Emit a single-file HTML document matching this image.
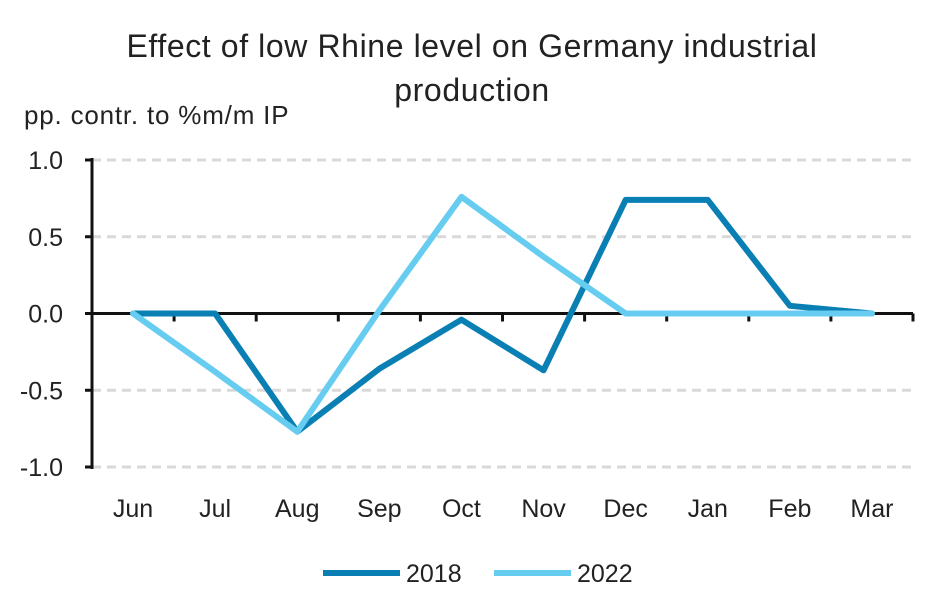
<!DOCTYPE html>
<html><head><meta charset="utf-8">
<style>
html,body{margin:0;padding:0;background:#fff;}
svg{display:block;font-family:"Source Sans Pro","Liberation Sans",sans-serif;}
</style></head>
<body>
<svg id="chart" width="949" height="596" viewBox="0 0 949 596" xmlns="http://www.w3.org/2000/svg">
<text x="472" y="57" text-anchor="middle" font-size="32" letter-spacing="0.6" fill="#222">Effect of low Rhine level on Germany industrial</text>
<text x="472" y="101" text-anchor="middle" font-size="32" letter-spacing="0.6" fill="#222">production</text>
<text x="24" y="124" font-size="26" letter-spacing="0.8" fill="#222">pp. contr. to %m/m IP</text>
<g id="grid"></g>
<g id="axes"></g>
<g id="series"></g>
<g>
<line x1="323" y1="573" x2="400" y2="573" stroke="#0a7fb4" stroke-width="6"/>
<text x="406" y="582" font-size="25" fill="#222">2018</text>
<line x1="494" y1="573" x2="571" y2="573" stroke="#66cdf0" stroke-width="6"/>
<text x="577" y="582" font-size="25" fill="#222">2022</text>
</g>
</svg>
<script>
const categories=["Jun","Jul","Aug","Sep","Oct","Nov","Dec","Jan","Feb","Mar"];
const series2018=[0,0,-0.77,-0.36,-0.04,-0.37,0.74,0.74,0.05,0];
const series2022=[0,-0.38,-0.77,0.02,0.76,0.37,0,0,0,0];
const yTicks=[1.0,0.5,0.0,-0.5,-1.0];
const yTickLabels=["1.0","0.5","0.0","-0.5","-1.0"];

const NS="http://www.w3.org/2000/svg";
const x0=92,x1=913,yTop=160,yBot=467;
const step=(x1-x0)/categories.length;
const xPos=i=>x0+step*(i+0.5);
const yPos=v=>yTop+(1-v)/2*(yBot-yTop);
function mk(tag,attrs,parent){const e=document.createElementNS(NS,tag);for(const k in attrs)e.setAttribute(k,attrs[k]);parent.appendChild(e);return e;}
const grid=document.getElementById('grid'),axes=document.getElementById('axes'),ser=document.getElementById('series');
yTicks.forEach((t,i)=>{
  if(t!==0){const l=mk('line',{x1:x0,x2:x1,y1:yPos(t),y2:yPos(t),stroke:'#d9d9d9','stroke-width':3,'stroke-dasharray':'9,6'},grid);
  
  }
  const tk=mk('line',{x1:x0-7,x2:x0,y1:yPos(t),y2:yPos(t),stroke:'#111','stroke-width':3},axes);
  
  
  const tx=mk('text',{x:63,y:yPos(t)+9,'text-anchor':'end','font-size':25,fill:'#222'},axes);
  tx.textContent=yTickLabels[i];
  
  
});
const ya=mk('line',{x1:x0,x2:x0,y1:yTop-2,y2:yBot+2,stroke:'#111','stroke-width':3},axes);


const xa=mk('line',{x1:x0,x2:x1,y1:yPos(0),y2:yPos(0),stroke:'#111','stroke-width':3},axes);


for(let i=0;i<=categories.length;i++){
  const tk=mk('line',{x1:x0+step*i,x2:x0+step*i,y1:yPos(0),y2:yPos(0)+8,stroke:'#111','stroke-width':3},axes);
  
  
}
categories.forEach((c,i)=>{
  const tx=mk('text',{x:xPos(i),y:517,'text-anchor':'middle','font-size':25,fill:'#222'},axes);
  tx.textContent=c;
  
  
});
function drawLine(vals,color,name){
  const d=vals.map((v,i)=>(i?'L':'M')+xPos(i)+','+yPos(v)).join(' ');
  const p=mk('path',{d:d,fill:'none',stroke:color,'stroke-width':6,'stroke-linejoin':'round','stroke-linecap':'round'},ser);
  
  
}
drawLine(series2018,'#0a7fb4','line-2018');
drawLine(series2022,'#66cdf0','line-2022');
</script>
</body></html>
